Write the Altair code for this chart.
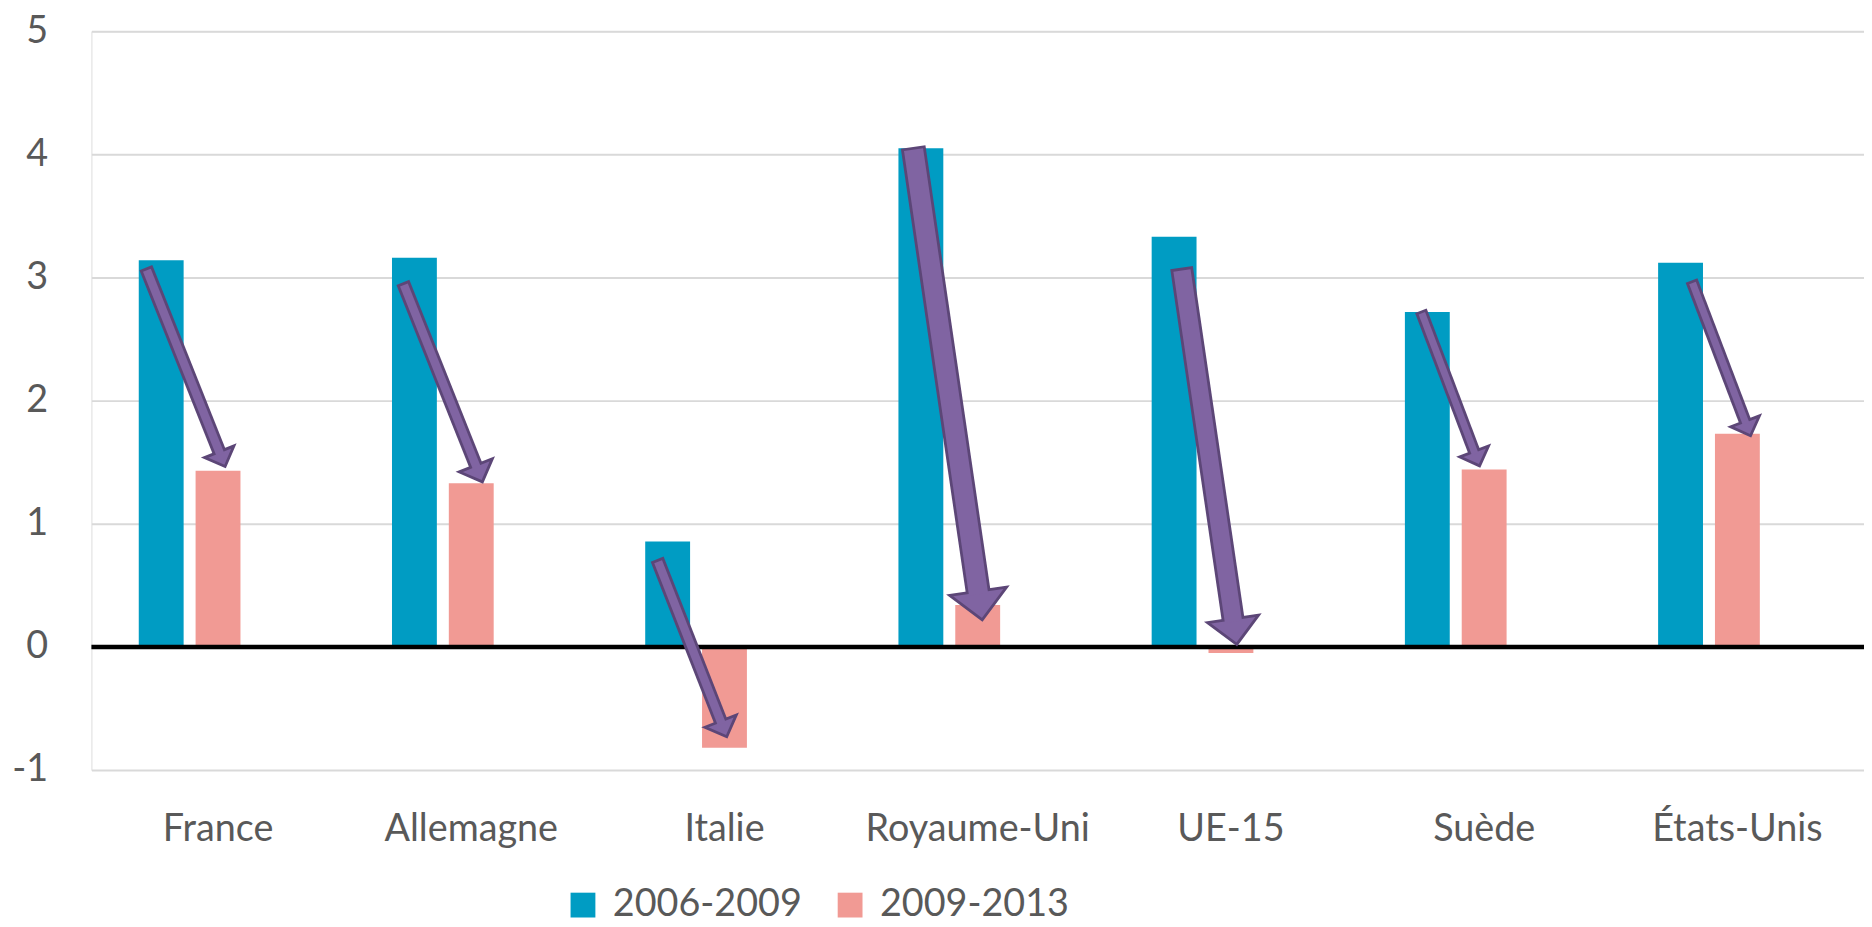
import math
import altair as alt
import pandas as pd

# ---------------- data ----------------
countries = ["France", "Allemagne", "Italie", "Royaume-Uni", "UE-15", "Suède", "États-Unis"]
series = ["2006-2009", "2009-2013"]
v_2006_2009 = [3.14, 3.16, 0.855, 4.05, 3.33, 2.72, 3.12]
v_2009_2013 = [1.43, 1.33, -0.82, 0.34, -0.05, 1.44, 1.73]

# arrows (x in category units relative to each category centre, y in data units)
arrow_tail_dx = [-0.285, -0.27, -0.266, -0.255, -0.195, -0.25, -0.181]
arrow_tail_y = [3.08, 2.96, 0.713, 4.06, 3.08, 2.73, 2.976]
arrow_tip_dx = [0.028, 0.044, 0.009, 0.018, 0.023, -0.018, 0.052]
arrow_tip_y = [1.465, 1.34, -0.73, 0.22, 0.02, 1.47, 1.715]
arrow_shaft_w = [14, 14, 14, 25, 23, 12.5, 12.7]
arrow_head_w = [32, 36, 34, 58, 52, 31, 31]

y_ticks = [-1, 0, 1, 2, 3, 4, 5]

# ---------------- styling ----------------
BLUE = "#009CC3"
PINK = "#F19A94"
ARROW_FILL = "#8064A2"
ARROW_LINE = "#5C4677"
GRID = "#D9D9D9"
TEXT = "#595959"
FONT = "Lato"
FS = 38

W = 1785          # plot width  (7 categories)
H = 744           # plot height (-1 .. 5)
px_x = W / len(countries)
px_y = H / 6.0
OUT = 2.8         # outline thickness of the arrows

bars = pd.DataFrame(
    [{"pays": c, "serie": series[0], "val": v} for c, v in zip(countries, v_2006_2009)]
    + [{"pays": c, "serie": series[1], "val": v} for c, v in zip(countries, v_2009_2013)]
)

rows = []
for i in range(len(countries)):
    xt, yt = i + arrow_tail_dx[i], arrow_tail_y[i]
    xh, yh = i + arrow_tip_dx[i], arrow_tip_y[i]
    dxp = (xh - xt) * px_x
    dyp = (yt - yh) * px_y
    L = math.hypot(dxp, dyp)
    ux, uy = dxp / L, dyp / L
    hl = arrow_head_w[i] / 2.0
    xb, yb = xh - hl * ux / px_x, yh + hl * uy / px_y            # head base
    xbi, ybi = xh - (hl - 3) * ux / px_x, yh + (hl - 3) * uy / px_y
    xi, yi = xt + OUT * ux / px_x, yt - OUT * uy / px_y            # inner start
    ang = math.degrees(math.atan2(-dxp, dyp)) % 360
    rows.append(dict(pays=countries[i], xt=xt, yt=yt, xb=xb, yb=yb, xi=xi, yi=yi,
                     xbi=xbi, ybi=ybi, xh=xh, yh=yh,
                     w=arrow_shaft_w[i], wi=arrow_shaft_w[i] - 2 * OUT,
                     size=arrow_head_w[i] ** 2, angle=ang))
arrows = pd.DataFrame(rows)

y_enc = alt.Y(
    "val:Q",
    scale=alt.Scale(domain=[-1, 5], nice=False, zero=False),
    axis=alt.Axis(values=y_ticks, labelExpr="'' + datum.value", grid=True,
                  gridColor=GRID, gridWidth=2,
                  domain=False, ticks=False, labelFont=FONT, labelFontSize=FS,
                  labelColor=TEXT, labelPadding=44, title=None),
)

bar_layer = alt.Chart(bars).mark_bar().encode(
    x=alt.X("pays:N", sort=countries,
            scale=alt.Scale(paddingInner=0, paddingOuter=0),
            axis=alt.Axis(title=None, domain=False, ticks=False, grid=False,
                          labelAngle=0, labelFont=FONT, labelFontSize=FS,
                          labelColor=TEXT, labelPadding=71, labelLimit=400,
                          labelBaseline="alphabetic")),
    xOffset=alt.XOffset("serie:N",
                        scale=alt.Scale(domain=series + ["_"],
                                        paddingInner=0.2105, paddingOuter=0.833)),
    y=y_enc,
    color=alt.Color("serie:N",
                    scale=alt.Scale(domain=series, range=[BLUE, PINK]),
                    legend=alt.Legend(title=None, orient="none", direction="horizontal",
                                      legendX=476, legendY=861,
                                      symbolType="square", symbolSize=625,
                                      symbolStrokeWidth=0, labelFont=FONT,
                                      labelFontSize=FS, labelColor=TEXT,
                                      labelOffset=11, columnPadding=29,
                                      padding=0, labelLimit=400)),
)

zero_line = alt.Chart(pd.DataFrame({"v": [0]})).mark_rule(
    color="black", strokeWidth=4.5
).encode(y=alt.Y("v:Q"))

xq = alt.Scale(domain=[-0.5, len(countries) - 0.5], nice=False, zero=False)

shaft_outer = alt.Chart(arrows).mark_rule(color=ARROW_LINE, strokeCap="butt").encode(
    x=alt.X("xt:Q", scale=xq, axis=None), x2="xb:Q",
    y=alt.Y("yt:Q"), y2="yb:Q",
    strokeWidth=alt.StrokeWidth("w:Q", scale=None, legend=None),
)
head = alt.Chart(arrows).mark_point(
    shape="M0,0 L-1,-1 L1,-1 Z", filled=True, fill=ARROW_FILL,
    stroke=ARROW_LINE, strokeWidth=OUT, opacity=1, strokeJoin="miter",
).encode(
    x=alt.X("xh:Q", scale=xq, axis=None),
    y=alt.Y("yh:Q"),
    size=alt.Size("size:Q", scale=None, legend=None),
    angle=alt.Angle("angle:Q", scale=None),
)
shaft_inner = alt.Chart(arrows).mark_rule(color=ARROW_FILL, strokeCap="butt").encode(
    x=alt.X("xi:Q", scale=xq, axis=None), x2="xbi:Q",
    y=alt.Y("yi:Q"), y2="ybi:Q",
    strokeWidth=alt.StrokeWidth("wi:Q", scale=None, legend=None),
)

arrow_layer = alt.layer(shaft_outer, head, shaft_inner)

chart = alt.layer(bar_layer, zero_line, arrow_layer).resolve_scale(
    x="independent"
).properties(
    width=W, height=H,
    autosize=alt.AutoSizeParams(type="none"),
    padding={"left": 84, "top": 20, "right": 0, "bottom": 200},
).configure_view(stroke=None).configure(background="white")

chart.save("out.html", embed_options={"renderer": "svg", "actions": False})
